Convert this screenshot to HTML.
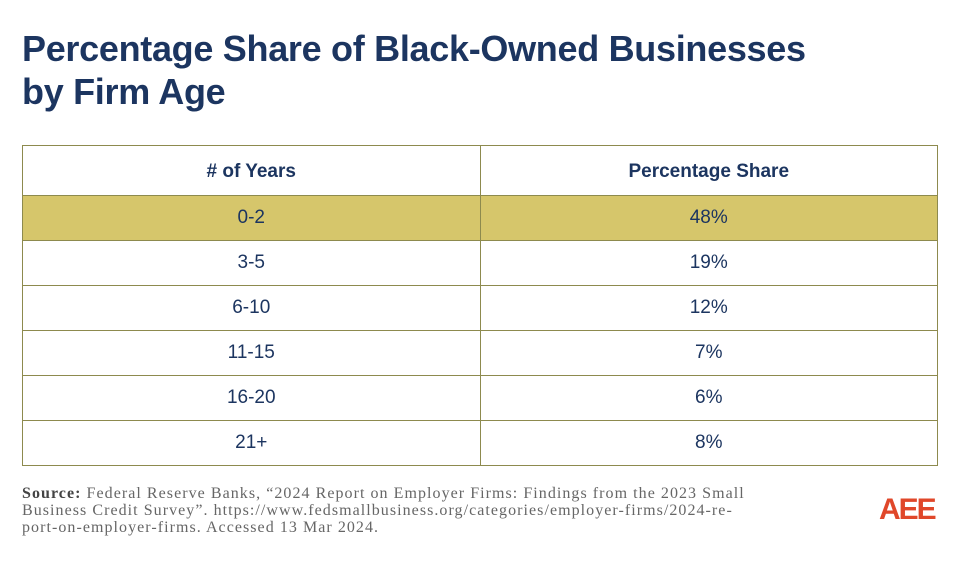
<!DOCTYPE html>
<html><head><meta charset="utf-8"><style>
body{margin:0;width:960px;height:567px;background:#fff;position:relative;overflow:hidden;font-family:"Liberation Sans",sans-serif}
h1{position:absolute;left:22px;top:27px;margin:0;font-size:36px;line-height:43px;color:#1c3560;font-weight:bold;letter-spacing:-0.3px}
table{position:absolute;left:22px;top:145px;width:916px;border-collapse:collapse}
td{border:1.5px solid #8d8a4e;text-align:center;color:#1c3560;font-size:19px;height:44px;padding:0;width:50%}
tr.h td{font-weight:bold;height:46px;padding-top:3px}
tr.y td{background:#d6c66b}
.src{position:absolute;left:22px;top:485px;font-family:"Liberation Serif",serif;font-size:16px;line-height:17px;color:#666;white-space:nowrap;letter-spacing:1.05px}
.src b{color:#444}
.logo{position:absolute;left:879px;top:495px;font-weight:bold;font-size:30px;color:#e0472a;letter-spacing:-2px;line-height:30px}
</style></head><body>
<h1>Percentage Share of Black-Owned Businesses<br>by Firm Age</h1>
<table>
<tr class="h"><td># of Years</td><td>Percentage Share</td></tr>
<tr class="y"><td>0-2</td><td>48%</td></tr>
<tr><td>3-5</td><td>19%</td></tr>
<tr><td>6-10</td><td>12%</td></tr>
<tr><td>11-15</td><td>7%</td></tr>
<tr><td>16-20</td><td>6%</td></tr>
<tr><td>21+</td><td>8%</td></tr>
</table>
<div class="src"><b>Source:</b> Federal Reserve Banks, “2024 Report on Employer Firms: Findings from the 2023 Small<br>Business Credit Survey”. https://www.fedsmallbusiness.org/categories/employer-firms/2024-re-<br>port-on-employer-firms. Accessed 13 Mar 2024.</div>
<div class="logo">AEE</div>
</body></html>
